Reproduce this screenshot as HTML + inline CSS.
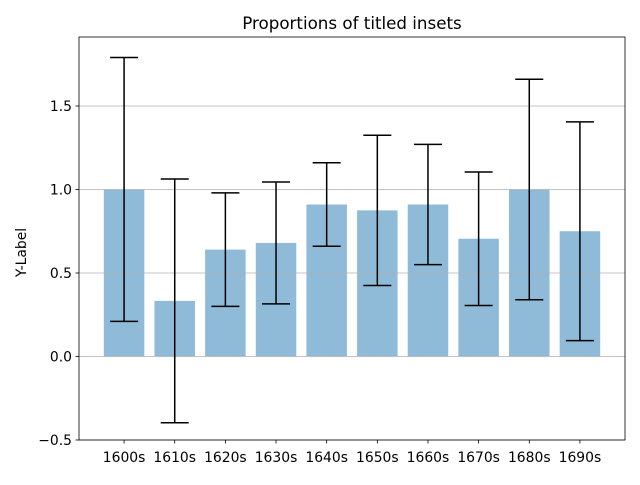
<!DOCTYPE html>
<html><head><meta charset="utf-8"><style>
body{margin:0;background:#fff}
svg text{font-family:"DejaVu Sans","Liberation Sans",sans-serif;fill:#000}
</style></head><body>
<svg id="chart" width="640" height="480" xmlns="http://www.w3.org/2000/svg"></svg>
<script>
const categories=["1600s","1610s","1620s","1630s","1640s","1650s","1660s","1670s","1680s","1690s"];
const values=[1.0,0.333,0.64,0.68,0.91,0.875,0.91,0.705,1.0,0.75];
const errors=[0.79,0.73,0.34,0.365,0.25,0.45,0.36,0.40,0.66,0.655];
const yTicks=[-0.5,0.0,0.5,1.0,1.5];
const yTickLabels=["\u22120.5","0.0","0.5","1.0","1.5"];

const svg=document.getElementById('chart');
const NS='http://www.w3.org/2000/svg';
const L=79,R=625,T=37,B=440;
const xMin=-0.89,xMax=categories.length-1+0.89;
const yMin=-0.5,yMax=1.913;
const xs=v=>L+(v-xMin)/(xMax-xMin)*(R-L);
const ys=v=>B-(v-yMin)/(yMax-yMin)*(B-T);
function mk(tag,attrs,parent){const e=document.createElementNS(NS,tag);for(const k in attrs)e.setAttribute(k,attrs[k]);(parent||svg).appendChild(e);return e;}

const bw=(xs(1)-xs(0))*0.8;
values.forEach((v,i)=>{
  const y0=ys(0),y1=ys(v);
  const r=mk('rect',{x:xs(i)-bw/2,y:Math.min(y0,y1),width:bw,height:Math.abs(y0-y1),fill:'#8fbbd9'});
  
  
});
yTicks.forEach((t,i)=>{
  const g=mk('line',{x1:L,x2:R,y1:ys(t),y2:ys(t),stroke:'#b0b0b0','stroke-width':0.8});
  
  
});
values.forEach((v,i)=>{
  const x=xs(i),hi=ys(v+errors[i]),lo=ys(v-errors[i]);
  const g=mk('g',{stroke:'#000','stroke-width':1.5});
  
  
  mk('line',{x1:x,x2:x,y1:hi,y2:lo},g);
  mk('line',{x1:x-14,x2:x+14,y1:hi,y2:hi},g);
  mk('line',{x1:x-14,x2:x+14,y1:lo,y2:lo},g);
});
const f=mk('rect',{x:L,y:T,width:R-L,height:B-T,fill:'none',stroke:'#000','stroke-width':0.8});


yTicks.forEach((t,i)=>{
  mk('line',{x1:L-3.5,x2:L,y1:ys(t),y2:ys(t),stroke:'#000','stroke-width':0.8});
  const tx=mk('text',{x:L-7,y:ys(t)+5,'text-anchor':'end','font-size':13.9});
  tx.textContent=yTickLabels[i];
  
  
});
categories.forEach((c,i)=>{
  mk('line',{x1:xs(i),x2:xs(i),y1:B,y2:B+3.5,stroke:'#000','stroke-width':0.8});
  const tx=mk('text',{x:xs(i),y:B+22,'text-anchor':'middle','font-size':13.9});
  tx.textContent=c;
  
  
});
const yl=mk('text',{x:26,y:(T+B)/2+14,'text-anchor':'middle','font-size':13.9,transform:`rotate(-90 26 ${(T+B)/2+14})`});
yl.textContent='Y-Label';


const ti=mk('text',{x:(L+R)/2,y:29,'text-anchor':'middle','font-size':16.7});
ti.textContent='Proportions of titled insets';


</script>
</body></html>
